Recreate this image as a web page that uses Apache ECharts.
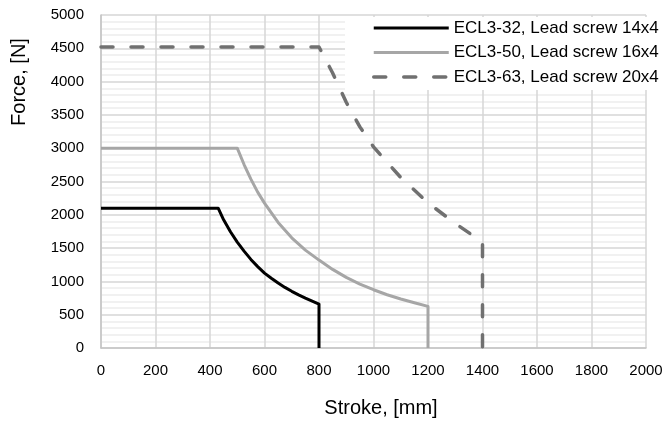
<!DOCTYPE html>
<html>
<head>
<meta charset="utf-8">
<script src="https://cdn.jsdelivr.net/npm/echarts@6/dist/echarts.min.js"></script>
<style>
html,body{margin:0;padding:0;background:#fff;}
#chart{width:667px;height:423px;}
</style>
</head>
<body>
<div id="chart"></div>
<script>
// Tick settings
var xTicks = [0, 200, 400, 600, 800, 1000, 1200, 1400, 1600, 1800, 2000];
var yTicks = [0, 500, 1000, 1500, 2000, 2500, 3000, 3500, 4000, 4500, 5000];

// Series names
var seriesNames = ['ECL3-32, Lead screw 14x4', 'ECL3-50, Lead screw 16x4', 'ECL3-63, Lead screw 20x4'];

// ECL3-32
var stroke32 = [0, 430, 450, 475, 500, 525, 550, 575, 600, 625, 650, 675, 700, 725, 750, 775, 800, 800];
var force32  = [2100, 2100, 1925, 1745, 1590, 1455, 1330, 1222, 1125, 1048, 976, 910, 851, 797, 749, 704, 660, 0];

// ECL3-50
var stroke50 = [0, 500, 525, 550, 575, 600, 650, 700, 750, 800, 850, 900, 950, 1000, 1050, 1100, 1150, 1200, 1200];
var force50  = [3000, 3000, 2755, 2535, 2340, 2175, 1885, 1655, 1470, 1320, 1180, 1060, 960, 875, 800, 735, 680, 625, 0];

// ECL3-63
var stroke63 = [0, 800, 850, 900, 950, 1000, 1100, 1200, 1300, 1400, 1400];
var force63  = [4520, 4520, 4130, 3690, 3320, 3020, 2560, 2180, 1870, 1590, 0];

function pairs(xs, ys) { return xs.map(function (x, i) { return [x, ys[i]]; }); }

var FONT = 'Liberation Sans';
var chart = echarts.init(document.getElementById('chart'), null, {renderer: 'canvas'});
chart.setOption({
  animation: false,
  backgroundColor: '#ffffff',
  grid: {left: 101, right: 21, top: 15, bottom: 75, containLabel: false},
  legend: {
    orient: 'vertical',
    left: 345, top: 17,
    backgroundColor: '#ffffff',
    padding: [2, 4, 4, 27],
    itemWidth: 75, itemHeight: 14, itemGap: 6.5,
    itemStyle: {opacity: 0},
    lineStyle: {width: 'inherit'},
    textStyle: {fontFamily: FONT, fontSize: 17, color: '#000', lineHeight: 18},
    data: seriesNames
  },
  xAxis: {
    type: 'value', min: xTicks[0], max: xTicks[xTicks.length - 1], interval: 200,
    name: 'Stroke, [mm]', nameLocation: 'middle', nameGap: 50,
    nameTextStyle: {fontFamily: FONT, fontSize: 20, color: '#000', padding: [0, 0, 0, 15]},
    axisLine: {show: true, lineStyle: {color: '#c4c4c4', width: 1.5}},
    axisTick: {show: false},
    axisLabel: {fontFamily: FONT, fontSize: 15, color: '#000', margin: 15, formatter: function (v) { return String(v); }},
    splitLine: {show: true, lineStyle: {color: '#d6d6d6', width: 1.5}}
  },
  yAxis: {
    type: 'value', min: yTicks[0], max: yTicks[yTicks.length - 1], interval: 500,
    axisLine: {show: true, lineStyle: {color: '#c4c4c4', width: 1.5}},
    axisTick: {show: false},
    axisLabel: {fontFamily: FONT, fontSize: 15, color: '#000', margin: 17, formatter: function (v) { return String(v); }},
    splitLine: {show: true, lineStyle: {color: '#d6d6d6', width: 1.5}},
    minorTick: {show: false, splitNumber: 5},
    minorSplitLine: {show: true, lineStyle: {color: '#ededed', width: 1.5}}
  },
  graphic: [{
    type: 'text', x: 19, y: 82, rotation: Math.PI / 2,
    style: {text: 'Force, [N]', fontFamily: FONT, fontSize: 20, fill: '#000', align: 'center', verticalAlign: 'middle'}
  }],
  series: [
    {name: seriesNames[0], type: 'line', symbol: 'none', data: pairs(stroke32, force32),
      lineStyle: {color: '#000000', width: 3, join: 'round'}, itemStyle: {color: '#000000'}, z: 5},
    {name: seriesNames[1], type: 'line', symbol: 'none', data: pairs(stroke50, force50),
      lineStyle: {color: '#a6a6a6', width: 3, join: 'round'}, itemStyle: {color: '#a6a6a6'}, z: 4},
    {name: seriesNames[2], type: 'line', symbol: 'none', data: pairs(stroke63, force63),
      lineStyle: {color: '#707070', width: 3.5, type: [12, 18], cap: 'round', join: 'round'}, itemStyle: {color: '#707070'}, z: 3}
  ]
});
</script>
</body>
</html>
